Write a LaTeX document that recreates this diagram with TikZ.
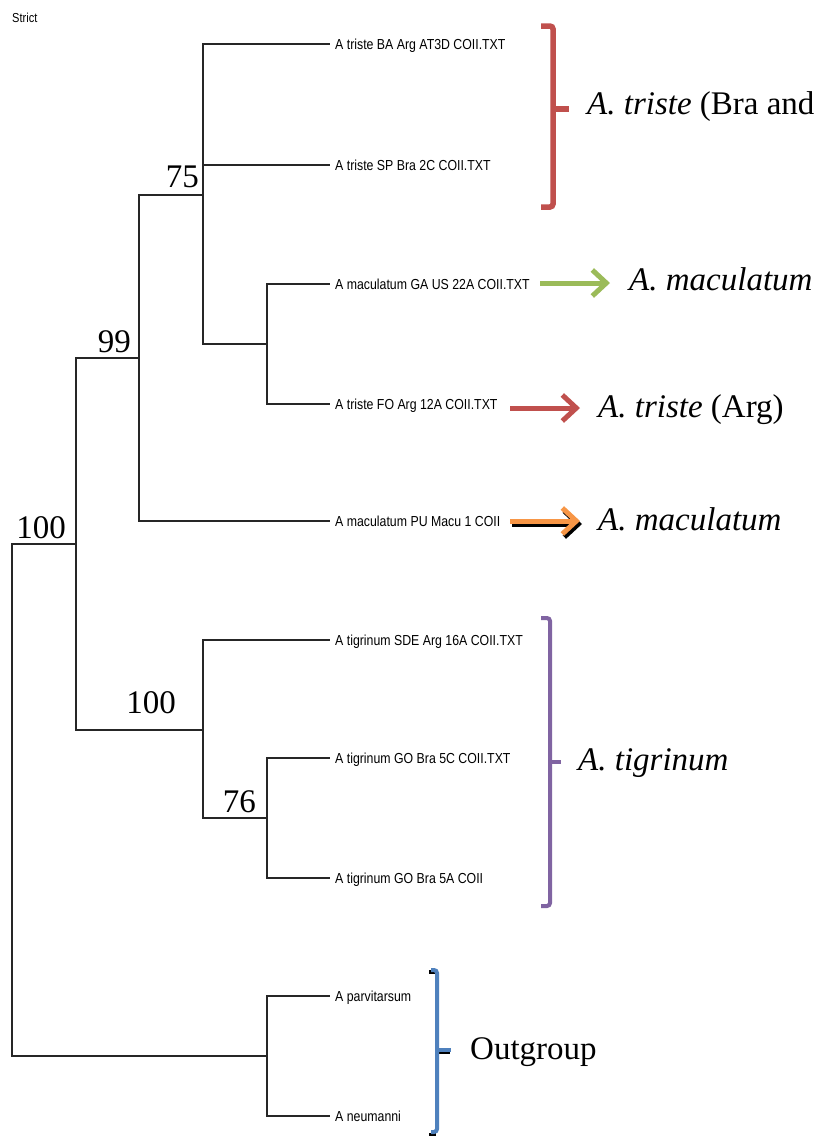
\documentclass[tikz,border=0pt]{standalone}
\usepackage{fontspec}
\setmainfont{Liberation Serif}
\newfontfamily\leaffont{Liberation Sans}[FakeStretch=0.85]
\usetikzlibrary{arrows.meta}
\definecolor{bred}{HTML}{C0504D}
\definecolor{bgreen}{HTML}{9BBB59}
\definecolor{borange}{HTML}{F79646}
\definecolor{bpurple}{HTML}{8064A2}
\definecolor{bblue}{HTML}{4F81BD}
\tikzset{
  leaf/.style={anchor=west, inner xsep=5pt, inner ysep=0pt, text height=10pt, text depth=0pt,
    font=\leaffont\fontsize{14.5}{14.5}\selectfont},
  supp/.style={anchor=base east, inner sep=0pt, font=\fontsize{33}{33}\selectfont},
  clab/.style={anchor=base west, inner sep=0pt, font=\fontsize{33}{33}\selectfont},
  branch/.style={line width=1.1pt, draw=black!85},
  brk/.style={line width=4.5pt, rounded corners=3pt},
  arr/.style={line width=5pt, -{Straight Barb[length=14pt,width=26pt]}, line join=round},
}
\begin{document}
\begin{tikzpicture}[x=1pt,y=-1pt]
\path[use as bounding box] (0,0) rectangle (823,1136);

\node[leaf, font=\leaffont\fontsize{13}{13}\selectfont, inner xsep=0pt] (strict) at (12,17) {Strict};

% leaves
\node[leaf] (l1) at (330,44) {A triste BA Arg AT3D COII.TXT};
\node[leaf] (l2) at (330,165) {A triste SP Bra 2C COII.TXT};
\node[leaf] (l3) at (330,284) {A maculatum GA US 22A COII.TXT};
\node[leaf] (l4) at (330,404) {A triste FO Arg 12A COII.TXT};
\node[leaf] (l5) at (330,521) {A maculatum PU Macu 1 COII};
\node[leaf] (l6) at (330,640) {A tigrinum SDE Arg 16A COII.TXT};
\node[leaf] (l7) at (330,758) {A tigrinum GO Bra 5C COII.TXT};
\node[leaf] (l8) at (330,878) {A tigrinum GO Bra 5A COII};
\node[leaf] (l9) at (330,996) {A parvitarsum};
\node[leaf] (l10) at (330,1116) {A neumanni};

% internal nodes
\coordinate (nA) at (203,195);
\coordinate (nC) at (267,344);
\coordinate (nB) at (139,358);
\coordinate (nD) at (76,544);
\coordinate (nT) at (203,730);
\coordinate (nU) at (267,818);
\coordinate (nO) at (267,1056);
\coordinate (root) at (12,800);

\draw[branch] (nA) |- (l1.west);
\draw[branch] (nA) |- (l2.west);
\draw[branch] (nA) |- (nC);
\draw[branch] (nC) |- (l3.west);
\draw[branch] (nC) |- (l4.west);
\draw[branch] (nB) |- (nA);
\draw[branch] (nB) |- (l5.west);
\draw[branch] (nD) |- (nB);
\draw[branch] (nD) |- (nT);
\draw[branch] (nT) |- (l6.west);
\draw[branch] (nT) |- (nU);
\draw[branch] (nU) |- (l7.west);
\draw[branch] (nU) |- (l8.west);
\draw[branch] (root) |- (nD);
\draw[branch] (root) |- (nO);
\draw[branch] (nO) |- (l9.west);
\draw[branch] (nO) |- (l10.west);

% support values
\node[supp] (s75) at (199,187) {75};
\node[supp] (s99) at (131,352) {99};
\node[supp] (s100a) at (66,538) {100};
\node[supp] (s100b) at (176,713) {100};
\node[supp] (s76) at (256,812) {76};

% brackets
\draw[brk, bred, line width=5.5pt] (541,26) -- (553,26) -- (553,207) -- (541,207);
\draw[brk, bred, line width=5.5pt, rounded corners=0pt] (553,109) -- (569,109);
\draw[brk, bpurple, line width=4pt] (541,618) -- (550,618) -- (550,906) -- (541,906);
\draw[brk, bpurple, line width=4pt, rounded corners=0pt] (550,762) -- (561,762);
\draw[brk, black, line width=4pt] (429,971.5) -- (436,971.5);
\draw[brk, black, line width=4pt] (429,1134.5) -- (436,1134.5);
\draw[brk, black, line width=4pt, rounded corners=0pt] (437,1052) -- (450,1052);
\draw[brk, bblue, line width=4pt] (431,970) -- (437,970) -- (437,1132) -- (431,1132);
\draw[brk, bblue, line width=4pt, rounded corners=0pt] (437,1050) -- (451,1050);

% arrows
\coordinate (ga) at (540,283);
\coordinate (gb) at (610,283);
\coordinate (ra) at (510,408);
\coordinate (rb) at (580,408);
\coordinate (oa) at (510,521);
\coordinate (ob) at (580,521);
\draw[arr, bgreen] (ga) -- (gb);
\draw[arr, bred] (ra) -- (rb);
\draw[arr, black] ([shift={(2,3)}]oa) -- ([shift={(2,3)}]ob);
\draw[arr, borange] (oa) -- (ob);

% clade labels
\node[clab] (c1) at (587,114) {\textit{A. triste} (Bra and};
\node[clab] (c2) at (629,290) {\textit{A. maculatum}};
\node[clab] (c3) at (598,417) {\textit{A. triste} (Arg)};
\node[clab] (c4) at (598,530) {\textit{A. maculatum}};
\node[clab] (c5) at (578,770) {\textit{A. tigrinum}};
\node[clab] (c6) at (470,1059) {Outgroup};
\end{tikzpicture}
\end{document}
